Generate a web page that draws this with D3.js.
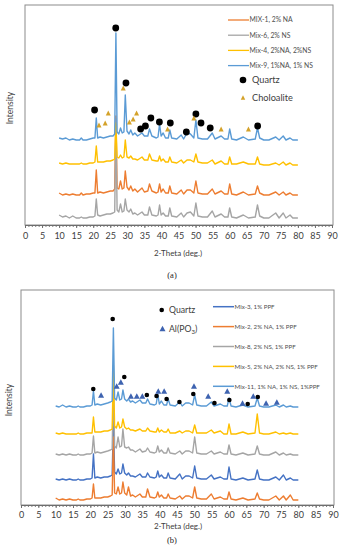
<!DOCTYPE html>
<html><head><meta charset="utf-8">
<script src="https://cdn.jsdelivr.net/npm/d3@7"></script>
<style>
html,body{margin:0;padding:0;background:#fff;}
svg{display:block;font-family:Lato,"Open Sans","Noto Sans",sans-serif;}
</style></head>
<body>
<svg id="chart" width="343" height="550"></svg>
<script>
// ---- shared 2-theta grid (deg.) ----
const twoTheta = [10,11,12,13,14,15,16,16.5,17,18,
  19,20,20.5,20.9,21.3,22,23,24,25,25.8,
  26.3,26.65,27.0,27.5,28.0,28.5,29.0,29.4,29.9,30.5,
  31.0,31.6,32.2,33.0,34.3,35.0,36.0,36.5,37.2,38.5,
  39.0,39.45,39.9,40.5,41.2,42.0,42.45,43.0,44.5,45.8,
  46.5,47.5,48.5,49.5,50.1,50.7,52.0,53.5,54.9,55.7,
  57.5,58.5,59.5,60.0,60.6,62.0,64.0,65.5,67.5,68.15,
  68.8,70.0,71.5,73.5,74.5,75.7,76.5,77.7,78.5,80];

const xTicks = [0,5,10,15,20,25,30,35,40,45,50,55,60,65,70,75,80,85,90];

// ---- panel (a) ----
const namesA = ["MIX-1, 2% NA","Mix-6,  2% NS","Mix-4, 2%NA, 2%NS","Mix-9, 1%NA, 1% NS"];
const colorsA = ["#ED7D31","#A5A5A5","#FFC000","#5B9BD5"];
const offsetsA = [29,6,60,84];
const mix1 = [3,1,2,1,2,1,1,3,1,2, 2,3,3,26,3,4,3,4,5,5, 7,80,8,7,15,7,8,25,9,6, 10,5,7,4,8,4,5,12,5,3, 4,12,4,7,3,3,10,3,2,6, 2,6,6,3,15,3,2,2,7,2, 5,2,2,12,2,1,4,1,2,10, 3,1,1,4,1,4,1,3,1,1];
const mix6 = [4,2,3,1,3,1,1,2,1,1, 2,2,3,20,4,3,4,5,5,6, 7,100,9,7,15,7,8,20,9,7, 10,5,6,4,7,4,4,12,4,3, 4,14,4,6,3,3,11,3,2,6, 2,6,7,3,16,3,2,2,8,2, 5,2,2,11,2,1,4,1,2,14, 3,1,1,6,1,6,1,4,1,1];
const mix4 = [2,1,2,1,1,1,1,2,1,1, 2,2,3,19,3,3,3,4,4,5, 6,42,8,7,10,7,8,25,8,7, 9,6,6,5,8,5,5,11,5,4, 4,9,4,6,3,3,8,3,2,5, 2,5,5,3,11,3,2,2,5,1, 4,1,1,8,1,1,3,1,1,8, 1,0,0,2,0,3,0,2,0,0];
const mix9 = [3,2,3,1,2,1,1,3,1,1, 2,3,3,23,3,4,3,4,5,5, 7,108,9,7,13,8,9,46,10,7, 11,6,8,5,8,5,5,12,5,3, 4,17,5,8,3,3,11,3,2,6, 2,8,7,3,21,3,2,2,8,2, 5,2,2,12,2,1,4,1,2,13, 3,1,1,4,1,5,1,3,1,1];
const seriesA = [mix1, mix6, mix4, mix9];
const quartzA = [[26.6,197],[29.6,142],[20.4,115],[36.9,107],[39.4,103],[42.6,102],[35.3,99],[33.9,96],[50.1,111],[51.6,102],[47.3,93],[54.3,97],[68.2,99]];
const choloaliteA = [[28.8,137],[24.4,112],[32.7,112],[21.7,100],[23.5,102],[30.6,103],[31.7,106],[41.8,96],[49.5,107],[57.5,96],[65.5,96]];

// ---- panel (b) ----
const namesB = ["Mix-3, 1% PPF","Mix-2, 2% NA, 1% PPF","Mix-8, 2% NS, 1% PPF","Mix-5, 2% NA, 2% NS, 1% PPF","Mix-11, 1% NA, 1% NS, 1%PPF"];
const colorsB = ["#4472C4","#ED7D31","#A5A5A5","#FFC000","#5B9BD5"];
const offsetsB = [24,4,49,70,97];
const mix3 = [2,1,2,1,2,1,1,2,1,1, 2,2,3,27,3,4,3,4,4,5, 6,60,9,7,12,7,8,17,8,6, 8,5,5,4,7,4,4,8,4,3, 4,10,4,6,3,3,8,3,2,7, 2,5,5,3,15,3,2,2,6,2, 4,2,2,14,2,1,3,1,2,11, 2,1,1,4,1,6,1,3,1,1];
const mix2 = [3,1,2,1,2,1,1,2,1,1, 2,2,3,17,3,3,3,4,4,5, 6,64,8,7,14,7,8,19,8,6, 14,5,6,4,7,4,4,12,4,3, 4,9,4,6,3,3,7,3,2,5, 2,5,5,3,14,3,2,2,7,2, 4,2,2,9,2,1,3,1,2,8, 2,1,1,5,1,5,1,6,1,1];
const mix8 = [2,1,2,1,2,1,1,2,1,1, 2,2,3,20,3,4,3,4,5,6, 7,75,10,8,19,9,10,27,9,8, 9,6,6,4,7,4,5,8,4,3, 4,10,4,6,3,3,8,3,2,5, 2,5,5,3,19,3,2,2,5,2, 4,2,2,11,2,1,3,1,2,10, 2,1,1,4,1,3,1,2,1,1];
const mix5 = [2,1,2,1,1,1,1,2,1,1, 2,2,2,18,3,3,3,4,4,5, 6,70,9,7,13,7,8,16,8,6, 7,5,5,4,6,4,4,7,4,3, 3,7,3,5,3,3,6,2,2,4, 2,4,4,2,10,2,2,2,5,2, 4,1,1,11,1,1,3,1,2,21, 2,1,1,3,1,2,1,2,1,1];
const mix11 = [2,1,3,1,2,1,1,2,1,1, 2,2,3,17,3,4,3,4,5,6, 7,80,10,8,16,8,9,18,9,7, 9,6,7,5,8,5,5,9,4,3, 4,14,4,7,3,3,9,3,2,6, 2,5,5,3,13,3,2,2,6,2, 4,2,2,10,2,1,3,1,2,10, 2,1,1,3,1,3,1,2,1,1];
const seriesB = [mix3, mix2, mix8, mix5, mix11];
const quartzB = [[26.45,186],[29.8,128],[20.85,116],[36.3,110],[39.1,109],[42.0,106],[45.7,103],[49.7,111],[55.8,102],[60.1,105],[65.4,101],[68.3,108]];
const alpo3B = [[27.6,119],[28.8,123],[23.1,110],[31.7,109],[33.4,109],[35.0,109],[39.6,114],[41.3,114],[49.9,119],[54.0,109],[59.5,114],[63.9,102],[67.0,109],[70.7,102],[73.8,103]];

const svg = d3.select("#chart");
const textCol = "#404040";

function drawPanel(cfg){
  const g = svg.append("g");
  const x = d3.scaleLinear().domain([0,90]).range([cfg.left, cfg.right]);
  const y = d3.scaleLinear().domain([0,cfg.ymax]).range([cfg.bottom, cfg.top]);
  g.append("rect").attr("x",cfg.left).attr("y",cfg.top)
    .attr("width",cfg.right-cfg.left+1).attr("height",cfg.bottom-cfg.top)
    .attr("fill","none").attr("stroke","#8c8c8c").attr("stroke-width",1);
  const line = d3.line().x(d=>x(d[0])).y(d=>y(d[1]));
  cfg.series.forEach((s,i)=>{
    const pts = twoTheta.map((t,k)=>[t, s[k]+cfg.offsets[i]]);
    g.append("path").attr("d",line(pts)).attr("fill","none")
      .attr("stroke",cfg.colors[i]).attr("stroke-width",1.4).attr("stroke-linejoin","round");
  });
  const minor = g.append("g").attr("transform",`translate(0,${cfg.bottom})`)
    .call(d3.axisBottom(x).tickValues(d3.range(0,91,1)).tickSize(2).tickFormat(""));
  minor.select(".domain").remove();
  minor.selectAll("line").attr("stroke","#7f7f7f");
  const ax = g.append("g").attr("transform",`translate(0,${cfg.bottom})`)
    .call(d3.axisBottom(x).tickValues(xTicks).tickSize(3).tickPadding(cfg.pad).tickSizeOuter(0));
  ax.select(".domain").attr("stroke","#6e6e6e");
  ax.selectAll("line").attr("stroke","#6e6e6e");
  ax.selectAll("text").attr("font-size",9).attr("fill",textCol).attr("font-family","Lato,'Open Sans',sans-serif");
  g.append("text").attr("x",178).attr("y",cfg.xlabY).attr("text-anchor","middle")
    .attr("font-size",8).attr("fill",textCol).text("2-Theta (deg.)");
  g.append("text").attr("transform",`translate(${cfg.ylabX},${cfg.ylabY}) rotate(-90)`)
    .attr("text-anchor","middle").attr("font-size",8.5).attr("fill",textCol).text("Intensity");
  g.append("text").attr("x",172).attr("y",cfg.capY).attr("text-anchor","middle")
    .attr("font-size",8.5).attr("fill","#222").attr("font-family","'Liberation Serif',serif").text(cfg.caption);
  return {g,x,y};
}

function triangle(sel, cx, cy, w, h, col){
  sel.append("path").attr("d",`M${cx},${cy-h/2}L${cx+w/2},${cy+h/2}L${cx-w/2},${cy+h/2}Z`).attr("fill",col);
}

// ---------- Panel A ----------
const A = drawPanel({left:25,right:332,top:5,bottom:225,ymax:220,series:seriesA,colors:colorsA,offsets:offsetsA,
  pad:5,xlabY:256,ylabX:13,ylabY:108,capY:278,caption:"(a)"});
quartzA.forEach(d=>A.g.append("circle").attr("cx",A.x(d[0])).attr("cy",A.y(d[1])).attr("r",3.4).attr("fill","#000"));
choloaliteA.forEach(d=>triangle(A.g, A.x(d[0]), A.y(d[1]), 5, 5, "#D4A22A"));
namesA.forEach((n,i)=>{
  const ly = 20 + i*15.2;
  A.g.append("line").attr("x1",228).attr("x2",249).attr("y1",ly).attr("y2",ly).attr("stroke",colorsA[i]).attr("stroke-width",1.3);
  A.g.append("text").attr("x",249.5).attr("y",ly+2.4).attr("font-size",6.8).attr("fill","#505050").text(n);
});
A.g.append("circle").attr("cx",243).attr("cy",80).attr("r",3.3).attr("fill","#000");
A.g.append("text").attr("x",252).attr("y",83.3).attr("font-size",9.2).attr("fill",textCol).text("Quartz");
triangle(A.g,243,97.5,4.5,4.5,"#D4A22A");
A.g.append("text").attr("x",252).attr("y",101).attr("font-size",9.2).attr("fill",textCol).text("Choloalite");

// ---------- Panel B ----------
const B = drawPanel({left:21,right:333,top:290,bottom:505,ymax:215,series:seriesB,colors:colorsB,offsets:offsetsB,
  pad:4,xlabY:529,ylabX:12,ylabY:400,capY:543,caption:"(b)"});
quartzB.forEach(d=>B.g.append("circle").attr("cx",B.x(d[0])).attr("cy",B.y(d[1])).attr("r",2.3).attr("fill","#000"));
alpo3B.forEach(d=>triangle(B.g, B.x(d[0]), B.y(d[1]), 6, 5.5, "#3E63B0"));
namesB.forEach((n,i)=>{
  const ly = 306.7 + i*19.9;
  B.g.append("line").attr("x1",213).attr("x2",234).attr("y1",ly).attr("y2",ly).attr("stroke",colorsB[i]).attr("stroke-width",1.5);
  B.g.append("text").attr("x",234.5).attr("y",ly+2.2).attr("font-size",6.2).attr("fill","#505050").text(n);
});
B.g.append("circle").attr("cx",161.7).attr("cy",310).attr("r",2.3).attr("fill","#000");
B.g.append("text").attr("x",169).attr("y",313).attr("font-size",8.7).attr("fill",textCol).text("Quartz");
triangle(B.g,162.5,328.5,6,5.5,"#3E63B0");
const alt = B.g.append("text").attr("x",169).attr("y",331.5).attr("font-size",8.7).attr("fill",textCol);
alt.append("tspan").text("Al(PO");
alt.append("tspan").attr("font-size",6).attr("dy",2).text("3");
alt.append("tspan").attr("dy",-2).text(")");
</script>
</body></html>
